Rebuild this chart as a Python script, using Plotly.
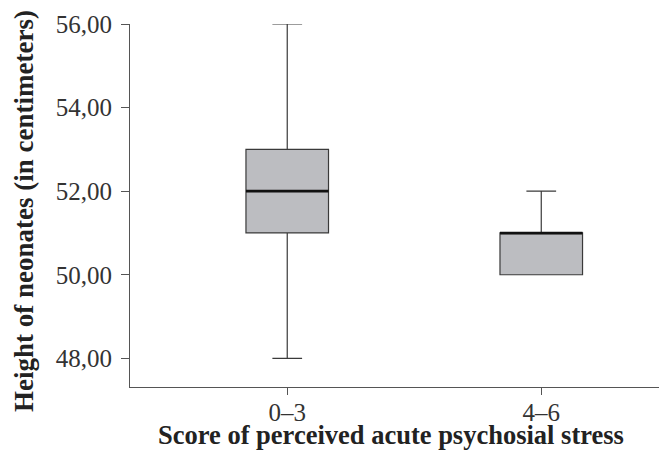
import plotly.graph_objects as go

categories = ["0–3", "4–6"]
lower_fence = [48, 50]
q1 = [51, 50]
median = [52, 51]
q3 = [53, 51]
upper_fence = [56, 52]
y_ticks = [48, 50, 52, 54, 56]
y_tick_labels = ["48,00", "50,00", "52,00", "54,00", "56,00"]

FONT = "Liberation Serif"
OFF = 8  # page body margin of the browser
W, H = 667 - OFF, 452 - OFF
ML, MR, MT, MB = 130 - OFF, 0, 24 - OFF, 65
PW, PH = W - ML - MR, H - MT - MB

fig = go.Figure()
fig.add_trace(go.Box(
    x=categories, q1=q1, median=median, q3=q3,
    lowerfence=lower_fence, upperfence=upper_fence,
    width=0.325, whiskerwidth=0.36,
    fillcolor="#bcbdc1", line=dict(color="#3a3a3a", width=1.2),
    boxpoints=False, hoverinfo="skip", showlegend=False,
))
# thicker median lines, drawn as flat boxes at the median
fig.add_trace(go.Box(
    x=categories, q1=median, median=median, q3=median,
    lowerfence=median, upperfence=median,
    width=0.325, whiskerwidth=0,
    fillcolor="rgba(0,0,0,0)", line=dict(color="#111111", width=2.6),
    boxpoints=False, hoverinfo="skip", showlegend=False,
))

fig.update_layout(
    width=W, height=H,
    margin=dict(l=ML, r=MR, t=MT, b=MB, autoexpand=False),
    paper_bgcolor="white", plot_bgcolor="white",
    font=dict(family=FONT, color="#333333"),
    xaxis=dict(
        type="category", range=[-0.619, 1.495],
        showline=True, linecolor="#555555", linewidth=1,
        ticks="outside", ticklen=7, tickcolor="#555555", tickwidth=1,
        tickfont=dict(family=FONT, size=25, color="#333333"),
        ticklabelstandoff=-4,
        showgrid=False, zeroline=False, fixedrange=True,
    ),
    yaxis=dict(
        range=[47.314, 56], tickvals=y_ticks, ticktext=y_tick_labels,
        showline=True, linecolor="#555555", linewidth=1,
        ticks="outside", ticklen=8, tickcolor="#555555", tickwidth=1,
        tickfont=dict(family=FONT, size=25, color="#333333"),
        ticklabelstandoff=4,
        showgrid=False, zeroline=False, fixedrange=True,
    ),
    annotations=[
        dict(text="<b>Score of perceived acute psychosial stress</b>",
             xref="paper", yref="paper",
             x=(391 - 130) / PW, y=-(435 - 387) / PH,
             xanchor="center", yanchor="middle", showarrow=False,
             font=dict(family=FONT, size=26.5, color="#222222")),
        dict(text="<b>Height of neonates (in centimeters)</b>",
             xref="paper", yref="paper",
             x=-(130 - 24) / PW, y=(387 - 211) / PH,
             xanchor="center", yanchor="middle", textangle=-90, showarrow=False,
             font=dict(family=FONT, size=27, color="#222222")),
    ],
)

fig.write_html("out.html")
